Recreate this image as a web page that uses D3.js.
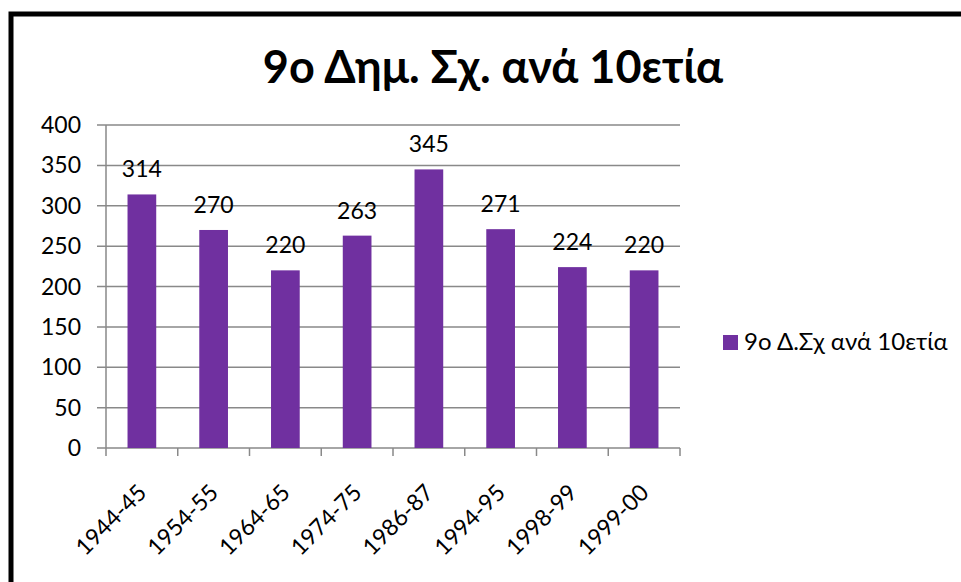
<!DOCTYPE html>
<meta charset="utf-8">
<style>
body { margin: 0; background: #fff; }
text { font-family: Lato, "Open Sans", sans-serif; fill: #000; }
</style>
<svg width="961" height="582"></svg>
<script src="https://d3js.org/d3.v7.min.js"></script>
<script>

var categories = ["1944-45", "1954-55", "1964-65", "1974-75", "1986-87", "1994-95", "1998-99", "1999-00"];
var values = [314, 270, 220, 263, 345, 271, 224, 220];
var yTicks = [0, 50, 100, 150, 200, 250, 300, 350, 400];
var title = "9ο Δημ. Σχ. ανά 10ετία";
var seriesName = "9ο Δ.Σχ ανά 10ετία";

var svg = d3.select("svg"),
    width = +svg.attr("width"),
    height = +svg.attr("height");

var barColor = "#7030a0",
    gridColor = "#898989";

var margin = {left: 106, right: 680, top: 125, bottom: 448};

// frame
svg.append("rect")
   .attr("x", 8).attr("y", 12)
   .attr("width", width + 20).attr("height", height + 20)
   .attr("fill", "none")
   .attr("stroke", "#000")
   .attr("stroke-width", 5)
   .attr("transform", "translate(3,2)");

svg.append("text")
   .attr("x", 493)
   .attr("y", 83)
   .attr("text-anchor", "middle")
   .style("font-size", "45px")
   .style("font-weight", "bold")
   .text(title);

var x = d3.scaleBand()
    .domain(categories)
    .range([margin.left, margin.right])
    .paddingInner(0.6)
    .paddingOuter(0.3);

var xb = d3.scaleBand()
    .domain(categories)
    .range([margin.left, margin.right]);

var y = d3.scaleLinear()
    .domain([0, 400])
    .range([margin.bottom, margin.top]);

// gridlines
svg.append("g")
   .selectAll("line")
   .data(yTicks)
   .enter().append("line")
   .attr("x1", margin.left - 9)
   .attr("x2", margin.right)
   .attr("y1", function(d) { return y(d); })
   .attr("y2", function(d) { return y(d); })
   .style("stroke", gridColor)
   .style("stroke-width", 1.5);

// y axis line
svg.append("line")
   .attr("x1", margin.left).attr("x2", margin.left)
   .attr("y1", margin.top).attr("y2", margin.bottom + 8)
   .style("stroke", gridColor)
   .style("stroke-width", 1.5);

// category ticks
svg.append("g")
   .selectAll("line")
   .data(categories)
   .enter().append("line")
   .attr("x1", function(d) { return xb(d) + xb.bandwidth(); })
   .attr("x2", function(d) { return xb(d) + xb.bandwidth(); })
   .attr("y1", margin.bottom)
   .attr("y2", margin.bottom + 8)
   .style("stroke", gridColor)
   .style("stroke-width", 1.5);

// y tick labels
svg.append("g")
   .selectAll("text")
   .data(yTicks)
   .enter().append("text")
   .attr("x", 81)
   .attr("y", function(d) { return y(d) + 8; })
   .attr("text-anchor", "end")
   .style("font-size", "23px")
   .text(function(d) { return d; });

// bars
svg.append("g")
   .selectAll("rect")
   .data(values)
   .enter().append("rect")
   .attr("x", function(d, i) { return x(categories[i]); })
   .attr("y", function(d) { return y(d); })
   .attr("width", x.bandwidth())
   .attr("height", function(d) { return y(0) - y(d); })
   .attr("fill", barColor);

// data labels
svg.append("g")
   .selectAll("text")
   .data(values)
   .enter().append("text")
   .attr("x", function(d, i) { return x(categories[i]) + x.bandwidth() / 2; })
   .attr("y", function(d) { return y(d) - 17; })
   .attr("text-anchor", "middle")
   .style("font-size", "23px")
   .text(function(d) { return d; });

// category labels
svg.append("g")
   .selectAll("text")
   .data(categories)
   .enter().append("text")
   .attr("transform", function(d) {
     return "translate(" + (xb(d) + xb.bandwidth() / 2 + 6) + "," + 494 + ") rotate(-45)";
   })
   .attr("text-anchor", "end")
   .style("font-size", "23px")
   .text(function(d) { return d; });

// legend
svg.append("rect")
   .attr("x", 723).attr("y", 335)
   .attr("width", 15).attr("height", 15)
   .attr("fill", barColor);

svg.append("text")
   .attr("x", 744)
   .attr("y", 350)
   .style("font-size", "24px")
   .text(seriesName);

</script>
